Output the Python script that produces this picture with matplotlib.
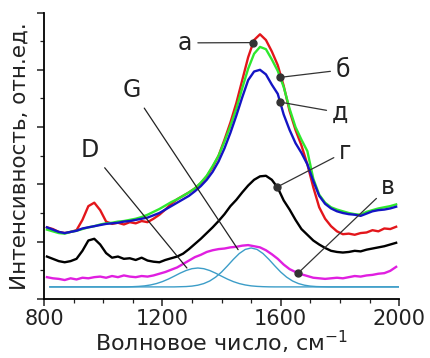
import numpy as np
import matplotlib
matplotlib.use('Agg')
import matplotlib.pyplot as plt
from matplotlib.ticker import MultipleLocator, NullFormatter

plt.rcParams['font.family'] = ['DejaVu Sans']

# волновое число для спектров (шаг 20)
wn = list(range(810, 2000, 20))

spec_a = [1.25, 1.22, 1.17, 1.15, 1.17, 1.20, 1.38, 1.62, 1.68, 1.55,
          1.35, 1.31, 1.33, 1.30, 1.34, 1.32, 1.36, 1.34, 1.40, 1.47,
          1.56, 1.66, 1.74, 1.80, 1.86, 1.93, 2.02, 2.14, 2.30, 2.50,
          2.78, 3.08, 3.42, 3.82, 4.22, 4.52, 4.62, 4.52, 4.32, 4.08,
          3.72, 3.28, 2.95, 2.68, 2.35, 1.95, 1.60, 1.40, 1.27, 1.18,
          1.13, 1.14, 1.12, 1.15, 1.16, 1.20, 1.18, 1.23, 1.22, 1.26]
spec_b = [1.21, 1.18, 1.15, 1.14, 1.17, 1.19, 1.22, 1.25, 1.27, 1.30,
          1.32, 1.33, 1.35, 1.36, 1.38, 1.40, 1.43, 1.47, 1.52, 1.57,
          1.63, 1.69, 1.74, 1.80, 1.86, 1.93, 2.03, 2.15, 2.32, 2.50,
          2.75, 3.02, 3.32, 3.68, 4.02, 4.28, 4.40, 4.36, 4.18, 3.98,
          3.70, 3.32, 3.00, 2.78, 2.58, 2.10, 1.82, 1.68, 1.60, 1.56,
          1.53, 1.50, 1.48, 1.47, 1.52, 1.55, 1.58, 1.60, 1.62, 1.65]
spec_d = [1.25, 1.21, 1.17, 1.15, 1.17, 1.19, 1.23, 1.25, 1.27, 1.29,
          1.31, 1.32, 1.33, 1.35, 1.36, 1.38, 1.40, 1.42, 1.46, 1.50,
          1.56, 1.62, 1.68, 1.74, 1.80, 1.88, 1.97, 2.08, 2.22, 2.40,
          2.63, 2.90, 3.20, 3.52, 3.82, 3.97, 4.00, 3.92, 3.74, 3.58,
          3.22, 2.95, 2.72, 2.55, 2.35, 2.06, 1.80, 1.66, 1.58, 1.53,
          1.50, 1.48, 1.47, 1.45, 1.49, 1.53, 1.55, 1.56, 1.58, 1.61]
spec_g = [0.74, 0.70, 0.66, 0.64, 0.66, 0.70, 0.84, 1.02, 1.05, 0.95,
          0.80, 0.72, 0.74, 0.70, 0.71, 0.68, 0.72, 0.67, 0.65, 0.64,
          0.68, 0.71, 0.74, 0.79, 0.87, 0.96, 1.05, 1.15, 1.25, 1.36,
          1.48, 1.62, 1.73, 1.86, 1.98, 2.08, 2.14, 2.15, 2.08, 1.94,
          1.72, 1.56, 1.38, 1.22, 1.12, 1.02, 0.95, 0.89, 0.84, 0.82,
          0.81, 0.82, 0.84, 0.83, 0.86, 0.88, 0.90, 0.92, 0.95, 0.98]
spec_v = [0.38, 0.36, 0.35, 0.33, 0.36, 0.34, 0.37, 0.36, 0.38, 0.39,
          0.37, 0.40, 0.38, 0.41, 0.39, 0.38, 0.40, 0.39, 0.41, 0.44,
          0.47, 0.51, 0.55, 0.61, 0.67, 0.73, 0.77, 0.82, 0.85, 0.87,
          0.88, 0.90, 0.91, 0.93, 0.94, 0.92, 0.90, 0.85, 0.78, 0.70,
          0.60, 0.52, 0.47, 0.43, 0.40, 0.37, 0.36, 0.35, 0.36, 0.37,
          0.36, 0.38, 0.40, 0.39, 0.41, 0.42, 0.44, 0.45, 0.49, 0.56]

# разложение на полосы D и G
wn_fit = list(range(820, 2001, 20))
band_D = [0.21] * 14 + [0.214, 0.219, 0.228, 0.244, 0.268, 0.302, 0.346, 0.397,
                        0.450, 0.496, 0.528, 0.540, 0.528, 0.496, 0.450, 0.397,
                        0.346, 0.302, 0.268, 0.244, 0.228, 0.219, 0.214, 0.211] + [0.21] * 22
band_G = [0.21] * 22 + [0.213, 0.216, 0.224, 0.240, 0.268, 0.313, 0.380, 0.469,
                        0.577, 0.691, 0.793, 0.864, 0.890, 0.864, 0.793, 0.691,
                        0.577, 0.469, 0.380, 0.313, 0.268, 0.240, 0.224, 0.216,
                        0.213] + [0.21] * 13

fig = plt.figure(figsize=(4.31, 3.58), dpi=100)
ax = fig.add_axes([0.102, 0.165, 0.824, 0.800])

ax.plot(wn, spec_a, color='#e3161b', lw=1.7)
ax.plot(wn, spec_b, color='#2ee82e', lw=1.7)
ax.plot(wn, spec_d, color='#1414c4', lw=1.7)
ax.plot(wn, spec_g, color='black', lw=1.7)
ax.plot(wn, spec_v, color='#e01fe0', lw=1.7)
ax.plot(wn_fit, band_D, color='#3c9dc8', lw=1.0)
ax.plot(wn_fit, band_G, color='#3c9dc8', lw=1.0)

# подписи кривых
labels = [('а', spec_a, 1507, (1277, 4.47)),
          ('б', spec_b, 1598, (1811, 4.00)),
          ('д', spec_d, 1598, (1801, 3.25)),
          ('г', spec_g, 1588, (1818, 2.57)),
          ('в', spec_v, 1659, (1963, 1.95))]
for txt, s, xp, pos in labels:
    yp = np.interp(xp, wn, s)
    ax.annotate(txt, xy=(xp, yp), xytext=pos, ha='center', va='center',
                fontsize=17, color='#222222',
                arrowprops=dict(arrowstyle='-', color='#333333', lw=0.9,
                                shrinkA=2, shrinkB=0))
    ax.plot(xp, yp, 'o', color='#333333', ms=5, zorder=5)

ax.annotate('G', xy=(1456, 0.86), xytext=(1098, 3.65), ha='center', va='center',
            fontsize=17, color='#222222',
            arrowprops=dict(arrowstyle='-', color='#222222', lw=0.9, shrinkA=3, shrinkB=0))
ax.annotate('D', xy=(1283, 0.54), xytext=(956, 2.60), ha='center', va='center',
            fontsize=17, color='#222222',
            arrowprops=dict(arrowstyle='-', color='#222222', lw=0.9, shrinkA=3, shrinkB=0))

ax.set_xlim(800, 2000)
ax.set_ylim(0, 5)
ax.xaxis.set_major_locator(MultipleLocator(400))
ax.xaxis.set_minor_locator(MultipleLocator(100))
ax.yaxis.set_major_locator(MultipleLocator(1))
ax.yaxis.set_minor_locator(MultipleLocator(0.5))
ax.yaxis.set_major_formatter(NullFormatter())
ax.spines['top'].set_visible(False)
ax.spines['right'].set_visible(False)
for sp in ['left', 'bottom']:
    ax.spines[sp].set_linewidth(1.3)
ax.tick_params(which='major', length=5, width=1.1, labelsize=15, pad=2, colors='#222222')
ax.tick_params(which='minor', length=3, width=0.9, colors='#222222')
ax.set_xlabel('Волновое число, см$^{-1}$', fontsize=16, labelpad=0, color='#222222')
ax.set_ylabel('Интенсивность, отн.ед.', fontsize=15.5, labelpad=3, color='#222222')

fig.savefig('out.png', dpi=100)
